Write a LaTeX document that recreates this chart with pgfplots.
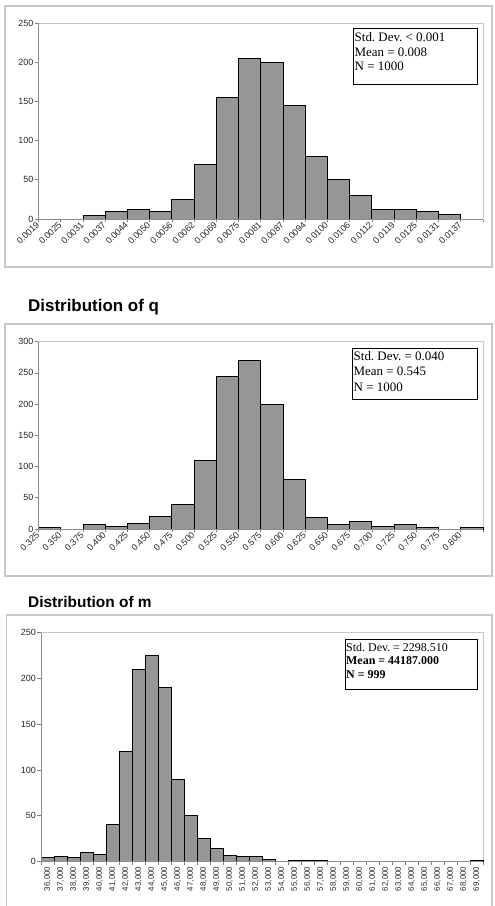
\documentclass[border=0pt]{standalone}
\usepackage{fontspec}
\setmainfont{Liberation Sans}
\newfontfamily\serif{Liberation Serif}
\usepackage{pgfplots}
\pgfplotsset{compat=1.18}
\frenchspacing

\pgfplotsset{
  histo/.style={
    scale only axis,
    ymin=0,
    axis line style={draw=black!22, line width=0.6bp},
    tick align=outside,
    major tick length=3.5bp,
    tick style={draw=black!50, line width=0.6bp},
    xtick pos=bottom, ytick pos=left,
    ytick distance=50,
    yticklabel style={font=\fontsize{9}{10}\selectfont, text=black!85, inner sep=1.5bp},
    xticklabel style={font=\fontsize{9}{10}\selectfont, text=black!85},
    /pgf/number format/assume math mode=true,
    clip=false,
  },
  bars/.style={ybar, bar width=1, bar shift=0pt, fill=black!41, draw=black, line width=0.9bp},
}
\tikzset{leftbottom/.style={draw=black!45, line width=0.6bp}}

\begin{document}
\begin{tikzpicture}
\useasboundingbox (0,0) rectangle (495bp,906bp);

% chart frames
\draw[black!22, line width=1.3bp] (5bp,639bp) rectangle (492bp,900bp);
\draw[black!22, line width=1.3bp] (5bp,330bp) rectangle (492bp,582bp);
\draw[black!22, line width=1.3bp] (6.5bp,-2bp) -- (6.5bp,291bp) -- (492bp,291bp) -- (492bp,-2bp);

% ---------- distribution of the first parameter ----------
\begin{axis}[histo,
  at={(38.5bp,687bp)}, anchor=south west,
  width=444.5bp, height=196bp,
  xmin=0, xmax=20, ymax=250,
  xtick={0,...,20},
  xticklabels={0.0019,0.0025,0.0031,0.0037,0.0044,0.0050,0.0056,0.0062,0.0069,0.0075,
               0.0081,0.0087,0.0094,0.0100,0.0106,0.0112,0.0119,0.0125,0.0131,0.0137,{}},
  xticklabel style={rotate=45, anchor=east, inner sep=1bp},
]
\addplot[bars] coordinates {
  (2.5,5) (3.5,9) (4.5,12) (5.5,10) (6.5,25) (7.5,70) (8.5,155) (9.5,205)
  (10.5,200) (11.5,145) (12.5,80) (13.5,50) (14.5,30) (15.5,12) (16.5,12)
  (17.5,9) (18.5,6)
};
\draw[leftbottom] (rel axis cs:0,1) -- (rel axis cs:0,0) -- (rel axis cs:1,0);
\end{axis}

\draw[black, line width=1bp] (353.3bp,877bp) rectangle (477.7bp,821.7bp);
\begin{scope}[every node/.style={anchor=base west, inner sep=0pt, font=\serif\fontsize{13}{15}\selectfont}]
  \node at (354.5bp,864.3bp) {Std. Dev. < 0.001};
  \node at (354.5bp,849.8bp) {Mean = 0.008};
  \node at (354.5bp,835.3bp) {N = 1000};
\end{scope}

% ---------- distribution of q ----------
\node[anchor=base west, inner sep=0pt, font=\bfseries\fontsize{17}{20}\selectfont]
  at (28bp,594.3bp) {Distribution of q};

\begin{axis}[histo,
  at={(38.5bp,377bp)}, anchor=south west,
  width=444.5bp, height=187.3bp,
  xmin=0, xmax=20, ymax=300,
  xtick={0,...,20},
  xticklabels={0.325,0.350,0.375,0.400,0.425,0.450,0.475,0.500,0.525,0.550,
               0.575,0.600,0.625,0.650,0.675,0.700,0.725,0.750,0.775,0.800,{}},
  xticklabel style={rotate=45, anchor=east, inner sep=1bp},
]
\addplot[bars] coordinates {
  (0.5,3) (2.5,7) (3.5,4) (4.5,9) (5.5,20) (6.5,40) (7.5,110) (8.5,245)
  (9.5,270) (10.5,200) (11.5,80) (12.5,18) (13.5,7) (14.5,12) (15.5,4)
  (16.5,7) (17.5,3) (19.5,3)
};
\draw[leftbottom] (rel axis cs:0,1) -- (rel axis cs:0,0) -- (rel axis cs:1,0);
\end{axis}

\draw[black, line width=1bp] (352.3bp,557.7bp) rectangle (477.7bp,506bp);
\begin{scope}[every node/.style={anchor=base west, inner sep=0pt, font=\serif\fontsize{13}{15}\selectfont}]
  \node at (353.5bp,545bp) {Std. Dev. = 0.040};
  \node at (353.5bp,530bp) {Mean = 0.545};
  \node at (353.5bp,514.7bp) {N = 1000};
\end{scope}

% ---------- distribution of m ----------
\node[anchor=base west, inner sep=0pt, font=\bfseries\fontsize{15.5}{18}\selectfont]
  at (28bp,298bp) {Distribution of m};

\begin{axis}[histo,
  at={(41bp,44.5bp)}, anchor=south west,
  width=442bp, height=228.8bp,
  xmin=0, xmax=34, ymax=250,
  xtick={0,...,34},
  x tick label as interval,
  xticklabels={{36,000},{37,000},{38,000},{39,000},{40,000},{41,000},{42,000},{43,000},
               {44,000},{45,000},{46,000},{47,000},{48,000},{49,000},{50,000},{51,000},
               {52,000},{53,000},{54,000},{55,000},{56,000},{57,000},{58,000},{59,000},
               {60,000},{61,000},{62,000},{63,000},{64,000},{65,000},{66,000},{67,000},
               {68,000},{69,000}},
  xticklabel style={rotate=90, anchor=east, inner sep=1.5bp, font=\fontsize{8}{9}\selectfont},
]
\addplot[bars] coordinates {
  (0.5,4) (1.5,6) (2.5,4) (3.5,10) (4.5,8) (5.5,40) (6.5,120) (7.5,210)
  (8.5,225) (9.5,190) (10.5,90) (11.5,50) (12.5,25) (13.5,14) (14.5,7)
  (15.5,5) (16.5,6) (17.5,2) (19.5,1) (20.5,1) (21.5,1) (33.5,1)
};
\draw[leftbottom] (rel axis cs:0,1) -- (rel axis cs:0,0) -- (rel axis cs:1,0);
\end{axis}

\draw[black, line width=1bp] (345bp,266.7bp) rectangle (477.7bp,216.7bp);
\begin{scope}[every node/.style={anchor=base west, inner sep=0pt, font=\serif\fontsize{12}{14}\selectfont}]
  \node at (346bp,254.3bp) {Std. Dev. = 2298.510};
  \node at (346bp,241bp) {\bfseries Mean = 44187.000};
  \node at (346bp,227.7bp) {\bfseries N = 999};
\end{scope}
\end{tikzpicture}
\end{document}
